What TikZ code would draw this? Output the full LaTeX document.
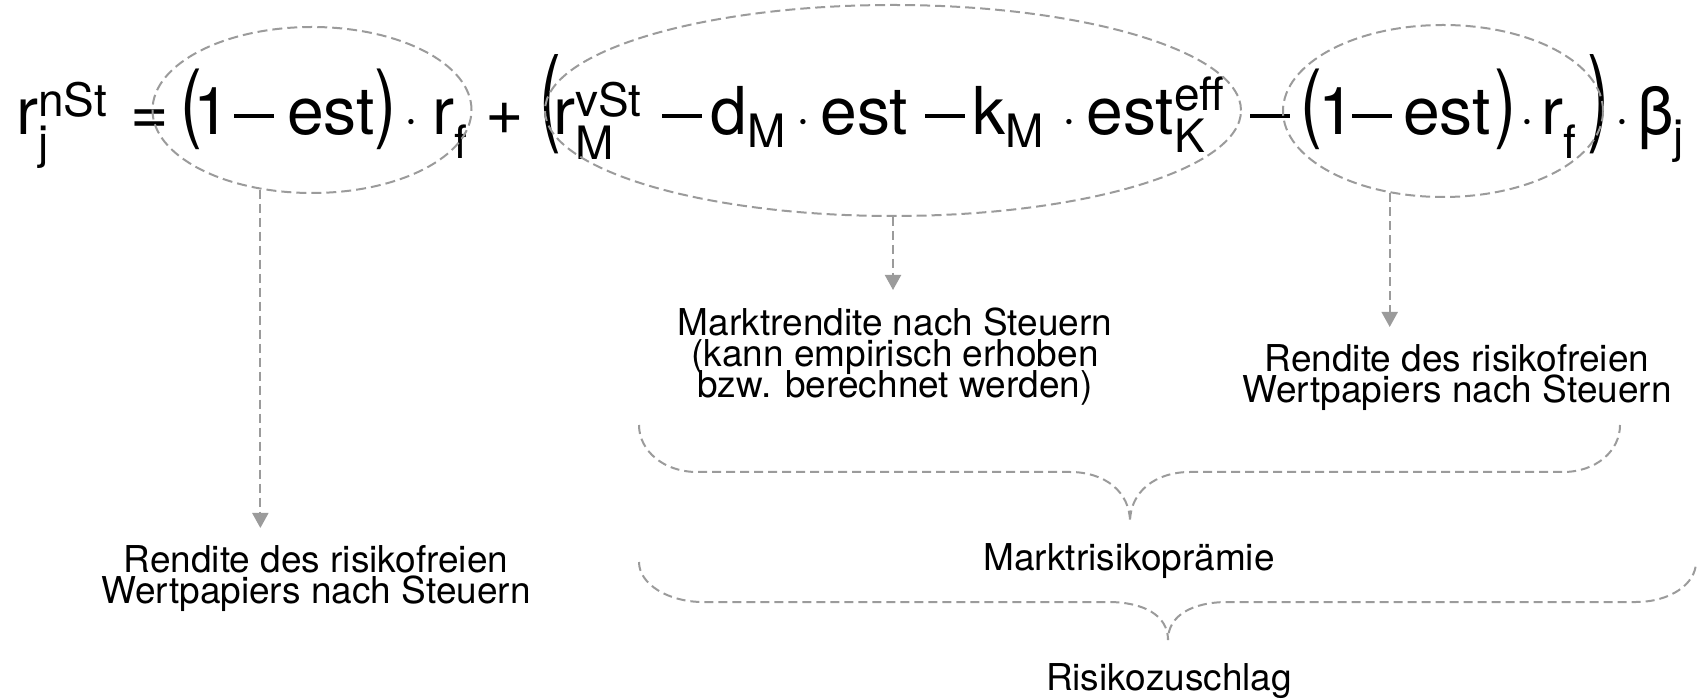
\documentclass[tikz,border=0pt]{standalone}
\usepackage{amsmath}
\usepackage{fontspec}
\setmainfont{TeX Gyre Heros}
\usepackage{tikz}
\usetikzlibrary{shapes.geometric}
\usetikzlibrary{arrows.meta}
\definecolor{Col1}{RGB}{155,155,155}
\DeclareMathSizes{33}{33}{23}{16}
\newcommand{\LPar}{\raisebox{.06em}{\scalebox{1}[1.3]{(}}}
\newcommand{\RPar}{\raisebox{.06em}{\scalebox{1}[1.3]{)}}}
\newcommand{\LParBig}{\raisebox{.06em}{\scalebox{1}[1.6]{(}}}
\newcommand{\RParBig}{\raisebox{.06em}{\scalebox{1}[1.6]{)}}}
\newcommand{\Minus}{\rule[.26em]{.6em}{.065em}}
\tikzstyle{Term}=[anchor=base,inner sep=0pt,font=\fontsize{33}{40}\selectfont]
\tikzstyle{TermW}=[Term,anchor=base west]
\tikzstyle{Oval}=[ellipse,draw=Col1,line width=1pt,
dash pattern=on 5pt off 2.5pt,inner sep=0pt]
\tikzstyle{Link}=[draw=Col1,line width=1pt,dash pattern=on 4.5pt off 2.5pt,
-{Triangle[length=7.5pt,width=8pt]}]
\tikzstyle{Brace}=[draw=Col1,line width=1pt,dash pattern=on 4.5pt off 2.5pt]
\tikzstyle{Label}=[align=center,inner xsep=0pt,inner ysep=8.5pt,
font={\fontsize{18.5}{15.5}\selectfont\lineskiplimit=-20pt}]

\begin{document}
\begin{tikzpicture}[x=.5pt,y=-.5pt]
        \useasboundingbox (0,0) rectangle (1702,699);
        % formula
        \node[TermW](rj)at(16,135){$\text{r}_{\text{j}}^{\text{nSt}}$};
        \node[Term](eq)at(150,135){=};
        \node[Term](lp1)at(191,135){\LPar};
        \node[Term](one1)at(212,135){1};
        \node[Term](mi1)at(254,135){\Minus};
        \node[Term](est1)at(331,135){est};
        \node[Term](rp1)at(385,135){\RPar};
        \node[Term](dot1)at(411,135){$\cdot$};
        \node[TermW](rf1)at(432,135){$\text{r}_{\text{f}}^{}$};
        \node[Term](plus)at(505,135){+};
        \node[Term](lpo)at(550,135){\LParBig};
        \node[TermW](rM)at(553,135){$\text{r}_{\text{M}}^{\text{vSt}}$};
        \node[Term](mi2)at(682,135){\Minus};
        \node[TermW](dM)at(710,135){$\text{d}_{\text{M}}^{}$};
        \node[Term](dot2)at(803,135){$\cdot$};
        \node[TermW](est2)at(820,135){est};
        \node[Term](mi3)at(945,135){\Minus};
        \node[TermW](kM)at(972,135){$\text{k}_{\text{M}}^{}$};
        \node[Term](dot3)at(1069,135){$\cdot$};
        \node[TermW](estK)at(1086,135){$\text{est}_{\text{K}}^{\text{eff}}$};
        \node[Term](mi4)at(1270,135){\Minus};
        \node[Term](lp2)at(1311,135){\LPar};
        \node[Term](one2)at(1337,135){1};
        \node[Term](mi5)at(1372,135){\Minus};
        \node[Term](est3)at(1447,135){est};
        \node[Term](rp2)at(1505,135){\RPar};
        \node[Term](dot4)at(1527,135){$\cdot$};
        \node[TermW](rf2)at(1541,135){$\text{r}_{\text{f}}^{}$};
        \node[Term](rpo)at(1598,135){\RParBig};
        \node[Term](dot5)at(1622,135){$\cdot$};
        \node[TermW](bj)at(1637,135){$\text{β}_{\text{j}}^{}$};
        % ovals round the parts
        \node[Oval,minimum width=159.5pt,minimum height=83pt](E1)at(312,110){};
        \node[Oval,minimum width=348pt,minimum height=105.5pt](E2)at(893,110.5){};
        \node[Oval,minimum width=160pt,minimum height=86pt](E3)at(1443,111){};
        % labels
        \node[Label,anchor=north](L1)at(316,528)
            {Rendite des risikofreien\\Wertpapiers nach Steuern};
        \node[Label,anchor=north](L2)at(895,290)
            {Marktrendite nach Steuern\\(kann empirisch erhoben\\bzw. berechnet werden)};
        \node[Label,anchor=north](L3)at(1457,327)
            {Rendite des risikofreien\\Wertpapiers nach Steuern};
        \draw[Link](E1.237)--(E1.237|-L1.north);
        \draw[Link](E2.south)--(E2.south|-L2.north);
        \draw[Link](E3.237)--(E3.237|-L3.north);
        % braces
        \draw[Brace](639,425)..controls(639,451)and(664,472)..(697,472)
            --(1070,472)..controls(1105,472)and(1130,492)..(1130,522)
            ..controls(1130,492)and(1155,472)..(1190,472)
            --(1563,472)..controls(1596,472)and(1620,451)..(1620,425);
        \draw[Brace](639,562)..controls(639,584)and(668,602)..(703,602)
            --(1108,602)..controls(1143,602)and(1168,615)..(1168,640)
            ..controls(1168,615)and(1193,602)..(1228,602)
            --(1636,602)..controls(1670,602)and(1696,584)..(1696,562);
        \node[Label,inner ysep=0pt,anchor=base](MRP)at(1129,571){Marktrisikoprämie};
        \node[Label,inner ysep=0pt,anchor=base](RZ)at(1169,690){Risikozuschlag};
    \end{tikzpicture}
\end{document}
